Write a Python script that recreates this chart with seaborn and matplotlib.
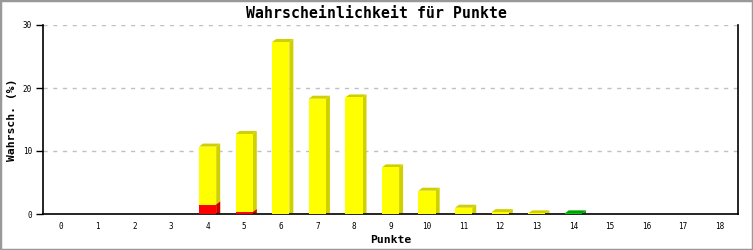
import matplotlib
matplotlib.use("Agg")
import matplotlib.pyplot as plt
import seaborn as sns
import pandas as pd
import numpy as np
from matplotlib.patches import Polygon, Rectangle

categories = [str(i) for i in range(19)]
# total bar height (yellow part stacked on red)
yellow_total = [0, 0, 0, 0, 10.7, 12.7, 27.3, 18.3, 18.5, 7.4, 3.7, 1.0, 0.3, 0.1, 0, 0, 0, 0, 0]
red_vals = [0, 0, 0, 0, 1.5, 0.3, 0, 0, 0, 0, 0, 0, 0, 0, 0, 0, 0, 0, 0]
green_vals = [0, 0, 0, 0, 0, 0, 0, 0, 0, 0, 0, 0, 0, 0, 0.1, 0, 0, 0, 0]
yticks = [0, 10, 20, 30]

sns.set_style("white")
plt.rcParams['font.family'] = ['DejaVu Sans Mono', 'DejaVu Sans']
for k in ["text.color", "axes.labelcolor", "xtick.color", "ytick.color"]:
    plt.rcParams[k] = "black"

fig = plt.figure(figsize=(7.53, 2.5), dpi=100)
ax = fig.add_axes([43/753, 1-214/250, (738-43)/753, (214-25)/250])

df = pd.DataFrame({"cat": categories, "yellow": yellow_total, "red": red_vals, "green": green_vals})

layers = [("yellow", "#ffff00", "#d0d000"), ("red", "#ff0000", "#cc0000"), ("green", "#00cc00", "#00a000")]
bw = 0.47
ax.set_xlim(-0.5, 18.5)
ax.set_ylim(0, 30)

side_map = {}
for col, face, side in layers:
    n0 = len(ax.patches)
    sns.barplot(data=df, x="cat", y=col, color=face, width=bw, saturation=1,
                edgecolor="none", linewidth=0, ax=ax, zorder=3)
    for p in ax.patches[n0:]:
        side_map[id(p)] = (side, col)

ax.set_xlim(-0.5, 18.5)
ax.set_ylim(0, 30)

# 3D faces: pixel offsets converted into data units
fig.canvas.draw()
px_x = (ax.get_xlim()[1] - ax.get_xlim()[0]) / ax.bbox.width
px_y = (ax.get_ylim()[1] - ax.get_ylim()[0]) / ax.bbox.height
dx, dy = 4 * px_x, 3 * px_y
for p in list(ax.patches):
    if id(p) not in side_map:
        continue
    h = p.get_height()
    if h <= 0:
        continue
    side, col = side_map[id(p)]
    x0 = p.get_x(); x1 = x0 + p.get_width(); y0 = p.get_y(); y1 = y0 + h
    sidep = Polygon([(x1, y0), (x1, y1), (x1 + dx, y1 + dy), (x1 + dx, y0 + dy * 0.3)],
                    closed=True, facecolor=side, edgecolor="none", zorder=2, clip_on=True)
    ax.add_patch(sidep)
    is_top = True
    if col == "red":
        idx = int(round(x0 + p.get_width() / 2))
        is_top = yellow_total[idx] <= red_vals[idx]
    if is_top:
        topp = Polygon([(x0, y1), (x1, y1), (x1 + dx, y1 + dy), (x0 + dx, y1 + dy)],
                       closed=True, facecolor=side, edgecolor="none", zorder=2, clip_on=False)
        ax.add_patch(topp)

ax.set_yticks(yticks)
ax.yaxis.grid(True, linestyle=(0, (3, 4)), color="#c0c0c0", linewidth=1)
ax.set_axisbelow(True)
for s in ["left", "bottom", "right"]:
    ax.spines[s].set_visible(True)
    ax.spines[s].set_color("black")
    ax.spines[s].set_linewidth(1.2)
ax.spines["top"].set_visible(False)
ax.tick_params(axis="y", length=5, width=1, direction="out", left=True, labelsize=5.5, pad=3)
ax.tick_params(axis="x", length=0, labelsize=5.5, pad=6)

ax.set_xlabel("Punkte", fontsize=8.2, fontweight="bold")
ax.set_ylabel("Wahrsch. (%)", fontsize=8.2, fontweight="bold")
ax.yaxis.set_label_coords((12 - 43) / 695, 0.5)
ax.xaxis.set_label_coords(0.5, -(240 - 214) / 189)
ax.xaxis.label.set_va("center")
ax.yaxis.label.set_va("center")
fig.text(376/753, 1-13/250, "Wahrscheinlichkeit für Punkte", ha="center", va="center",
         fontsize=10.7, fontweight="bold")

fig.patches.append(Rectangle((0, 0), 1, 1, transform=fig.transFigure, fill=False,
                             edgecolor="#999999", linewidth=2.5, zorder=10))

fig.savefig("out.png", dpi=100)
